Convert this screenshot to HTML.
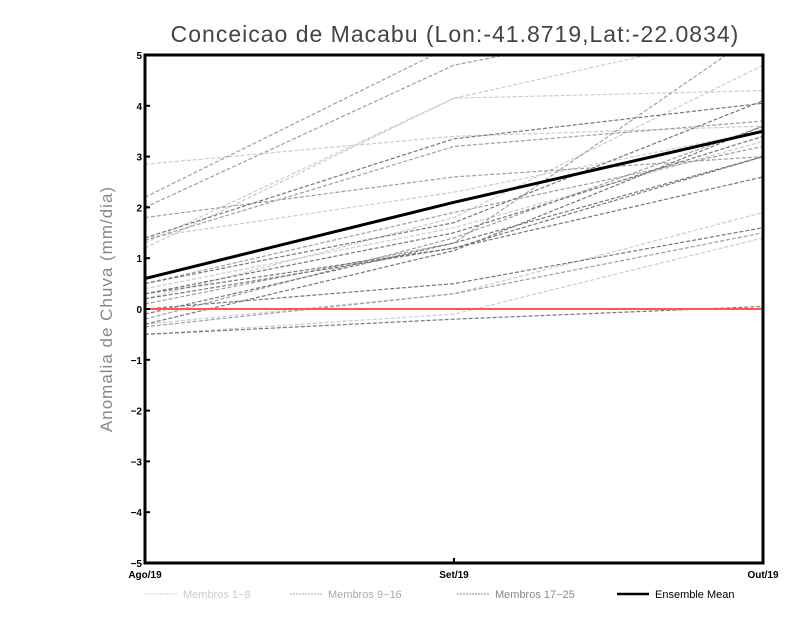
<!DOCTYPE html>
<html><head><meta charset="utf-8"><style>
body{margin:0;background:#fff;}
svg{display:block;font-family:"Liberation Sans",sans-serif;}
</style></head><body>
<svg id="chart" width="800" height="618">
<defs><clipPath id="clip"><rect x="145" y="55" width="618" height="508"/></clipPath></defs>
<text x="455" y="42" text-anchor="middle" font-size="23" fill="#444" letter-spacing="1">Conceicao de Macabu (Lon:-41.8719,Lat:-22.0834)</text>
<text transform="translate(112,309) rotate(-90)" text-anchor="middle" font-size="17" fill="#888" letter-spacing="1">Anomalia de Chuva (mm/dia)</text>
<g id="series" clip-path="url(#clip)"></g>
<g id="axes"></g>
<g id="legend"></g>
</svg>
<script>
const categories=["Ago/19","Set/19","Out/19"];
const yTicks=[-5,-4,-3,-2,-1,0,1,2,3,4,5];
const membersA=[[2.85,3.4,3.6],[1.2,4.15,4.3],[1.3,4.15,5.5],[0.2,1.8,4.8],[-0.3,0.3,1.9],[-0.5,-0.1,1.4],[0.4,1.6,3.3],[1.4,2.3,3.5]];
const membersB=[[2.2,5.2,7],[2.0,4.8,6],[1.8,2.6,3.0],[1.35,3.2,3.7],[0.1,1.3,5.5],[-0.2,1.4,3.6],[-0.35,0.3,1.5],[0.5,1.9,3.2]];
const membersC=[[1.4,3.35,4.05],[0.3,1.2,2.6],[0.2,1.2,3.0],[-0.5,-0.2,0.05],[0,0.5,1.6],[-0.3,1.15,3.6],[0.5,1.7,4.1],[0.3,1.5,3.4],[-0.1,1.3,3.0]];
const ensembleMean=[0.6,2.1,3.5];
const NS="http://www.w3.org/2000/svg";
const X0=145,X1=763,Y0=563,Y1=55;
const xs=i=>X0+(X1-X0)*i/(categories.length-1);
const ys=v=>Y0-(v+5)/10*(Y0-Y1);
function mk(t,a,p){const e=document.createElementNS(NS,t);for(const k in a)e.setAttribute(k,a[k]);p.appendChild(e);return e;}
const S=document.getElementById('series'),A=document.getElementById('axes'),L=document.getElementById('legend');
function pts(d){return d.map((v,i)=>xs(i)+','+ys(v)).join(' ');}
[[membersA,'#cccccc','members-1-8'],[membersB,'#a0a0a0','members-9-16'],[membersC,'#777777','members-17-25']].forEach(([g,c,n])=>{
 g.forEach((d,k)=>{const p=mk('polyline',{points:pts(d),fill:'none',stroke:c,'stroke-width':1.2,'stroke-dasharray':'4,2'},S);
 
 });
});
const z=mk('line',{x1:X0,x2:X1,y1:ys(0),y2:ys(0),stroke:'#ff5555','stroke-width':2},S);


const m=mk('polyline',{points:pts(ensembleMean),fill:'none',stroke:'#000','stroke-width':3},S);


const fr=mk('rect',{x:X0,y:Y1,width:X1-X0,height:Y0-Y1,fill:'none',stroke:'#000','stroke-width':3},A);


yTicks.forEach(v=>{mk('line',{x1:X0,x2:X0+5,y1:ys(v),y2:ys(v),stroke:'#000','stroke-width':2},A);
 const t=mk('text',{x:X0-3,y:ys(v)+4,'text-anchor':'end','font-size':10,'font-weight':'bold'},A);t.textContent=(v<0?'\u2212'+(-v):v);
 
 });
categories.forEach((c,i)=>{mk('line',{x1:xs(i),x2:xs(i),y1:Y0,y2:Y0-5,stroke:'#000','stroke-width':2},A);
 const t=mk('text',{x:xs(i),y:Y0+15,'text-anchor':'middle','font-size':10,'font-weight':'bold'},A);t.textContent=c;
 
 });
const leg=[['#cccccc','Membros 1\u22128',145,2],['#aaaaaa','Membros 9\u221216',290,2],['#888888','Membros 17\u221225',457,2],['#000000','Ensemble Mean',617,0]];
leg.forEach(([c,txt,x,d])=>{
 const l=mk('line',{x1:x,x2:x+32,y1:594,y2:594,stroke:c,'stroke-width':d?1:2.5,'stroke-dasharray':d?'2,1':'none'},L);
 
 
 const t=mk('text',{x:x+38,y:598,'font-size':11,fill:d?c:'#000'},L);t.textContent=txt;
 
 
});
</script>
</body></html>
